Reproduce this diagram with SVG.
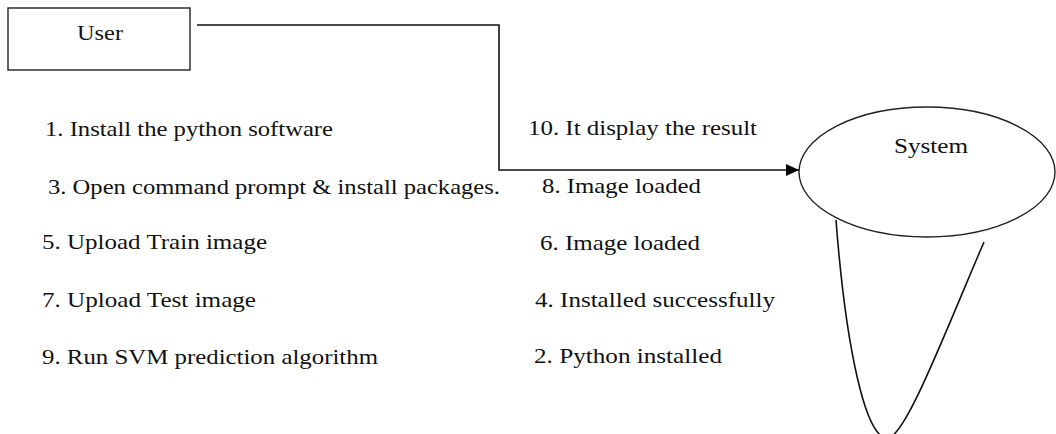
<svg xmlns="http://www.w3.org/2000/svg" width="1056" height="434" viewBox="0 0 1056 434">
<style>
.t{font-family:"Liberation Serif","Times New Roman",serif;font-size:21px;fill:#111}
.n{font-family:"Liberation Serif","Times New Roman",serif;font-size:22px;fill:#111}
.s{fill:#fff;stroke:#222;stroke-width:1.4}
.c{fill:none;stroke:#111;stroke-width:1.6}
</style>
<defs>
<marker id="ah" markerWidth="14" markerHeight="12" refX="13" refY="6" orient="auto" markerUnits="userSpaceOnUse">
<path d="M0,0 L13,6 L0,12 Z" fill="#000"/>
</marker>
</defs>
<rect width="1056" height="434" fill="#fff"/>
<g id="connectors">
<path class="c" d="M197,25 H499 V170 H799" marker-end="url(#ah)"/>
<path class="c" d="M836,220 C846,350 866,440 888,438 C906,436 946,330 984,242" stroke-width="1.3"/>
</g>
<g id="user">
<rect class="s" x="8" y="8" width="182" height="62" stroke-width="1.5"/>
<text class="n" x="77" y="40" textLength="46" lengthAdjust="spacingAndGlyphs">User</text>
</g>
<g id="system">
<ellipse class="s" cx="927" cy="172" rx="128" ry="65"/>
<text class="n" x="894" y="153" textLength="74" lengthAdjust="spacingAndGlyphs">System</text>
</g>
<g id="labels">
<text class="t" x="45" y="136" textLength="288" lengthAdjust="spacingAndGlyphs">1. Install the python software</text>
<text class="t" x="48" y="194" textLength="452" lengthAdjust="spacingAndGlyphs">3. Open command prompt &amp; install packages.</text>
<text class="t" x="42" y="249" textLength="225" lengthAdjust="spacingAndGlyphs">5. Upload Train image</text>
<text class="t" x="42" y="307" textLength="214" lengthAdjust="spacingAndGlyphs">7. Upload Test image</text>
<text class="t" x="42" y="364" textLength="336" lengthAdjust="spacingAndGlyphs">9. Run SVM prediction algorithm</text>
<text class="t" x="528" y="135" textLength="229" lengthAdjust="spacingAndGlyphs">10. It display the result</text>
<text class="t" x="542" y="193" textLength="159" lengthAdjust="spacingAndGlyphs">8. Image loaded</text>
<text class="t" x="540" y="250" textLength="160" lengthAdjust="spacingAndGlyphs">6. Image loaded</text>
<text class="t" x="535" y="307" textLength="240" lengthAdjust="spacingAndGlyphs">4. Installed successfully</text>
<text class="t" x="534" y="363" textLength="188" lengthAdjust="spacingAndGlyphs">2. Python installed</text>
</g>
</svg>
